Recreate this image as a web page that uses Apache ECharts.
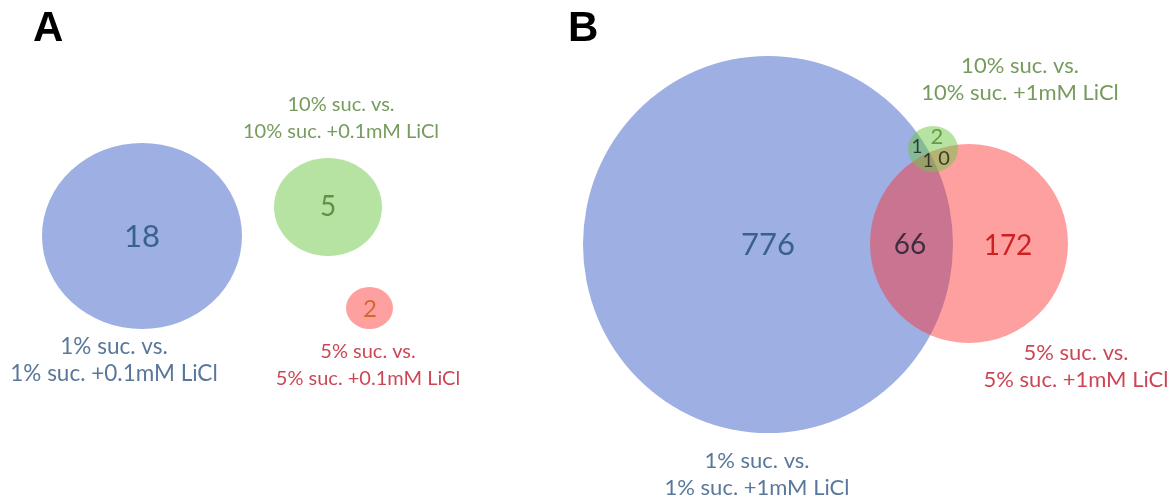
<!DOCTYPE html>
<html>
<head>
<meta charset="utf-8">
<script src="https://cdn.jsdelivr.net/npm/echarts@6/dist/echarts.min.js"></script>
<style>
  html, body { margin: 0; padding: 0; background: #fff; }
  #chart { width: 1171px; height: 498px; }
</style>
</head>
<body>
<div id="chart"></div>
<script>
// ---- data ----
// Panel A: sets (0.1mM LiCl) and counts of DEGs, no overlaps
const setsA = ['1% suc. vs.\n1% suc. +0.1mM LiCl', '10% suc. vs.\n10% suc. +0.1mM LiCl', '5% suc. vs.\n5% suc. +0.1mM LiCl'];
const countsA = [18, 5, 2];

// Panel B: sets (1mM LiCl) and region counts
const setsB = ['1% suc. vs.\n1% suc. +1mM LiCl', '10% suc. vs.\n10% suc. +1mM LiCl', '5% suc. vs.\n5% suc. +1mM LiCl'];
const regionsB = ['1% only', '10% only', '5% only', '1% & 10%', '1% & 10% & 5%', '10% & 5%', '1% & 5%'];
const countsB = [776, 2, 172, 1, 1, 0, 66];

// ---- layout (page units: x 0..1171, y 0..498) ----
// ellipses: [cx, cy, rx, ry]
const ellipsesA = [[142, 236, 100, 93], [328, 207, 54, 49], [369.5, 308, 23.5, 21]];
const ellipsesB = [[768, 244.5, 185, 188.5], [933, 149, 25, 23], [969, 243.5, 99, 99.5]];
const ellipseOrderB = [0, 2, 1]; // blue, red, then green on top
const fills = ['#9dafe3', 'rgba(110,200,70,0.5)', 'rgba(255,45,45,0.45)'];

const countPosA = [[142, 237], [328, 207], [370, 309]];
const countStyleA = [['#1f4e79', 31], ['#4f7a2e', 28], ['#c55a11', 24]];
const countPosB = [[768, 245], [937, 137], [1008, 246], [917, 147], [928, 161], [944, 159], [910, 245]];
const countStyleB = [['#1f4e79', 31], ['#4f8a2b', 22], ['#c00000', 28], ['#1a1a1a', 19], ['#1a1a1a', 19], ['#1a1a1a', 20], ['#1b1b2b', 28]];

const setPosA = [[114, 360], [341, 118], [368, 365]];
const setPosB = [[757, 474], [1020, 79], [1076, 366]];
const setColors = ['#2f5582', '#548235', '#c0172a'];
const setFontA = [22.5, 20, 20];
const setFontB = [22, 22, 22];

const font = 'Lato, "Noto Sans", sans-serif';

const ellipseData = [];
ellipsesA.forEach((e, i) => ellipseData.push({ value: e, fill: fills[i] }));
ellipseOrderB.forEach(i => ellipseData.push({ value: ellipsesB[i], fill: fills[i] }));

function textPoints(pos, texts, colorOf, sizeOf, lh) {
  return pos.map((p, i) => ({
    value: p,
    name: String(texts[i]),
    label: { color: colorOf(i), fontSize: sizeOf(i), lineHeight: lh ? lh : undefined }
  }));
}

const countData = textPoints(countPosA, countsA, i => countStyleA[i][0], i => countStyleA[i][1])
  .concat(textPoints(countPosB, countsB, i => countStyleB[i][0], i => countStyleB[i][1]));

const setData = textPoints(setPosA, setsA, i => setColors[i], i => setFontA[i], 27)
  .concat(textPoints(setPosB, setsB, i => setColors[i], i => setFontB[i], 27));

const chart = echarts.init(document.getElementById('chart'));
chart.setOption({
  animation: false,
  backgroundColor: '#fff',
  title: [
    { text: 'A', left: 28, top: 3, textStyle: { fontFamily: 'Liberation Sans, Arial', fontWeight: 'bold', fontSize: 42, color: '#000' } },
    { text: 'B', left: 563, top: 3, textStyle: { fontFamily: 'Liberation Sans, Arial', fontWeight: 'bold', fontSize: 42, color: '#000' } }
  ],
  grid: { left: 0, right: 0, top: 0, bottom: 0 },
  xAxis: { type: 'value', min: 0, max: 1171, show: false },
  yAxis: { type: 'value', min: 0, max: 498, inverse: true, show: false },
  series: [
    {
      type: 'custom',
      silent: true,
      data: ellipseData,
      renderItem: function (params, api) {
        const d = ellipseData[params.dataIndex];
        const c = api.coord([api.value(0), api.value(1)]);
        const s = api.size([api.value(2), api.value(3)]);
        return {
          type: 'circle',
          x: c[0],
          y: c[1],
          scaleX: s[0] / s[1],
          shape: { cx: 0, cy: 0, r: s[1] },
          style: { fill: d.fill }
        };
      }
    },
    {
      type: 'scatter',
      symbolSize: 0,
      silent: true,
      data: countData,
      label: { show: true, position: 'inside', fontFamily: font, formatter: p => p.name },
      z: 5
    },
    {
      type: 'scatter',
      symbolSize: 0,
      silent: true,
      data: setData,
      label: { show: true, position: 'inside', fontFamily: font, align: 'center', formatter: p => p.name },
      z: 5
    }
  ]
});
</script>
</body>
</html>
